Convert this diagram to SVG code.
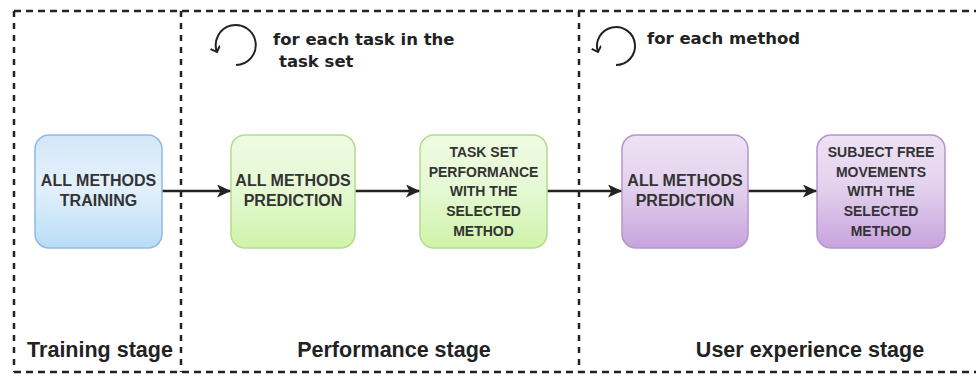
<svg xmlns="http://www.w3.org/2000/svg" width="976" height="376" viewBox="0 0 976 376">
<defs>
<linearGradient id="gBlue" x1="0" y1="0" x2="0" y2="1">
<stop offset="0" stop-color="#d3e7f8"/><stop offset="0.45" stop-color="#e4f1fc"/><stop offset="1" stop-color="#b8ddf7"/>
</linearGradient>
<linearGradient id="gGreen" x1="0" y1="0" x2="0" y2="1">
<stop offset="0" stop-color="#eefbe2"/><stop offset="0.45" stop-color="#e6f9d5"/><stop offset="1" stop-color="#d0f3aa"/>
</linearGradient>
<linearGradient id="gPurple" x1="0" y1="0" x2="0" y2="1">
<stop offset="0" stop-color="#eee2f4"/><stop offset="0.45" stop-color="#e3d2ee"/><stop offset="1" stop-color="#c8a3dd"/>
</linearGradient>
<marker id="arr" markerUnits="userSpaceOnUse" markerWidth="15" markerHeight="13" refX="14" refY="6.5" orient="auto">
<path d="M0,0 L14,6.5 L0,13 L3.5,6.5 Z" fill="#222"/>
</marker>
<marker id="loopHead" markerUnits="userSpaceOnUse" markerWidth="12" markerHeight="12" refX="6" refY="5" orient="auto">
<path d="M1,0 L6,5 L1,10" fill="none" stroke="#222" stroke-width="2"/>
</marker>
</defs>
<style>
.dh{fill:none;stroke:#222;stroke-width:2.5;stroke-dasharray:7 5;}
.dv{fill:none;stroke:#222;stroke-width:2.5;stroke-dasharray:6 6;}
.node{stroke-width:1.5;}
.nt{font-family:"Liberation Sans",Arial,sans-serif;font-weight:bold;fill:#333;text-anchor:middle;}
.big{font-size:16px;}
.small{font-size:14px;}
.lbl{font-family:"Liberation Sans",Arial,sans-serif;font-weight:bold;font-size:21.5px;fill:#222;text-anchor:middle;}
.loop{font-family:"DejaVu Sans",Verdana,sans-serif;font-weight:bold;font-size:16.5px;fill:#222;}
.edge{stroke:#222;stroke-width:2.5;fill:none;marker-end:url(#arr);}
.icon{fill:none;stroke:#222;stroke-width:2;marker-end:url(#loopHead);}
</style>
<rect width="976" height="376" fill="#ffffff"/>

<g id="stages">
<line class="dh" x1="14" y1="11" x2="976" y2="11"/>
<line class="dh" x1="14" y1="372" x2="976" y2="372"/>
<line class="dv" x1="14" y1="11" x2="14" y2="372"/>
<line class="dv" x1="181" y1="11" x2="181" y2="372"/>
<line class="dv" x1="579" y1="11" x2="579" y2="372"/>
<text class="lbl" x="100" y="357">Training stage</text>
<text class="lbl" x="394" y="357">Performance stage</text>
<text class="lbl" x="810" y="357">User experience stage</text>
</g>

<g id="loop1">
<path class="icon" d="M236,65 A20,20 0 1 0 217,52"/>
<text class="loop" x="273" y="45">for each task in the</text>
<text class="loop" x="279" y="67">task set</text>
</g>
<g id="loop2">
<path class="icon" d="M616,65 A19,19 0 1 0 598,52"/>
<text class="loop" x="647" y="44">for each method</text>
</g>

<g id="connectors">
<line class="edge" x1="162" y1="191" x2="231" y2="191"/>
<line class="edge" x1="355" y1="191" x2="420" y2="191"/>
<line class="edge" x1="547" y1="191" x2="622" y2="191"/>
<line class="edge" x1="748" y1="191" x2="817" y2="191"/>
</g>

<g id="node-training">
<rect class="node" x="35" y="135" width="127" height="113" rx="14" fill="url(#gBlue)" stroke="#8fbbe3"/>
<text class="nt big" x="98.5" y="185.5">ALL METHODS</text>
<text class="nt big" x="98.5" y="205.5">TRAINING</text>
</g>

<g id="node-prediction1">
<rect class="node" x="231" y="135" width="124" height="113" rx="14" fill="url(#gGreen)" stroke="#b3dc8d"/>
<text class="nt big" x="293" y="185.5">ALL METHODS</text>
<text class="nt big" x="293" y="205.5">PREDICTION</text>
</g>

<g id="node-taskset">
<rect class="node" x="420" y="135" width="127" height="113" rx="14" fill="url(#gGreen)" stroke="#b3dc8d"/>
<text class="nt small" x="483.5" y="157">TASK SET</text>
<text class="nt small" x="483.5" y="177">PERFORMANCE</text>
<text class="nt small" x="483.5" y="196">WITH THE</text>
<text class="nt small" x="483.5" y="216">SELECTED</text>
<text class="nt small" x="483.5" y="236">METHOD</text>
</g>

<g id="node-prediction2">
<rect class="node" x="622" y="135" width="126" height="113" rx="14" fill="url(#gPurple)" stroke="#b596cb"/>
<text class="nt big" x="685" y="185.5">ALL METHODS</text>
<text class="nt big" x="685" y="205.5">PREDICTION</text>
</g>

<g id="node-free">
<rect class="node" x="817" y="135" width="128" height="113" rx="14" fill="url(#gPurple)" stroke="#b596cb"/>
<text class="nt small" x="881" y="157">SUBJECT FREE</text>
<text class="nt small" x="881" y="177">MOVEMENTS</text>
<text class="nt small" x="881" y="196">WITH THE</text>
<text class="nt small" x="881" y="216">SELECTED</text>
<text class="nt small" x="881" y="236">METHOD</text>
</g>
</svg>
